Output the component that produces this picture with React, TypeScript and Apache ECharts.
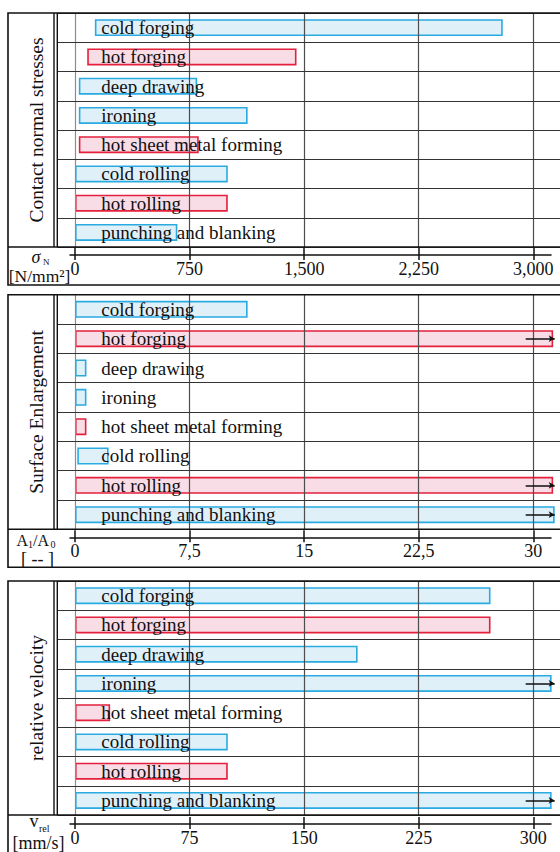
import React, { useEffect, useRef } from 'react';
import * as echarts from 'echarts';

// ---------- data ----------
const categories = [
  'cold forging',
  'hot forging',
  'deep drawing',
  'ironing',
  'hot sheet metal forming',
  'cold rolling',
  'hot rolling',
  'punching and blanking',
];
const processKind = ['cold', 'hot', 'cold', 'cold', 'hot', 'cold', 'hot', 'cold'];

// Contact normal stresses [N/mm²]
const stressStart = [130, 80, 25, 25, 25, 0, 0, 0];
const stressEnd = [2800, 1450, 800, 1130, 810, 1000, 1000, 670];
const stressTicks = [0, 750, 1500, 2250, 3000];
const stressTickLabels = ['0', '750', '1,500', '2,250', '3,000'];
const stressArrows: string[] = [];
const stressArrowSpan = [0, 0];

// Surface enlargement A1/A0 [--]
const enlargeStart = [0, 0, 0, 0, 0, 0.15, 0, 0];
const enlargeEnd = [11.3, 31.3, 0.75, 0.75, 0.75, 2.2, 31.3, 31.4];
const enlargeTicks = [0, 7.5, 15, 22.5, 30];
const enlargeTickLabels = ['0', '7,5', '15', '22,5', '30'];
const enlargeArrows = ['hot forging', 'hot rolling', 'punching and blanking'];
const enlargeArrowSpan = [29.5, 31.4];

// relative velocity v_rel [mm/s]
const velocityStart = [0, 0, 0, 0, 0, 0, 0, 0];
const velocityEnd = [272, 272, 185, 312, 23, 100, 100, 312];
const velocityTicks = [0, 75, 150, 225, 300];
const velocityTickLabels = ['0', '75', '150', '225', '300'];
const velocityArrows = ['ironing', 'punching and blanking'];
const velocityArrowSpan = [295, 314];

const panelTitles = ['Contact normal stresses', 'Surface Enlargement', 'relative velocity'];

// ---------- styling / layout ----------
const FONT = '"Liberation Serif", "Times New Roman", serif';
const INK = '#111111';
const BLUE = '#29abe2';
const BLUE_FILL = '#dff0f9';
const RED = '#e4203c';
const RED_FILL = '#f8dce6';

const layout = [
  { top: 13, plotBottom: 247, axisY: 255, bottom: 285 },
  { top: 294.7, plotBottom: 529.3, axisY: 537.3, bottom: 567.3 },
  { top: 581, plotBottom: 815, axisY: 824, bottom: 854 },
];
const ZERO_X = 75;
const LAST_TICK_X = 533.3;
const PLOT_LEFT = 57.3;
const PLOT_RIGHT = 560;
const AXIS_LEFT = 70;
const AXIS_RIGHT = 551;

function buildOption() {
  const panels = [
    { start: stressStart, end: stressEnd, ticks: stressTicks, labels: stressTickLabels, arrows: stressArrows, span: stressArrowSpan },
    { start: enlargeStart, end: enlargeEnd, ticks: enlargeTicks, labels: enlargeTickLabels, arrows: enlargeArrows, span: enlargeArrowSpan },
    { start: velocityStart, end: velocityEnd, ticks: velocityTicks, labels: velocityTickLabels, arrows: velocityArrows, span: velocityArrowSpan },
  ];

  const grid: any[] = [];
  const xAxis: any[] = [];
  const yAxis: any[] = [];
  const series: any[] = [];
  const graphic: any[] = [];

  panels.forEach((p, i) => {
    const L = layout[i];
    const lastTick = p.ticks[p.ticks.length - 1];
    const k = (LAST_TICK_X - ZERO_X) / lastTick; // px per unit

    grid.push({
      left: PLOT_LEFT,
      top: L.top,
      width: PLOT_RIGHT - PLOT_LEFT,
      height: L.plotBottom - L.top,
      containLabel: false,
    });
    grid.push({
      left: AXIS_LEFT,
      top: L.axisY - 10,
      width: AXIS_RIGHT - AXIS_LEFT,
      height: 10,
      containLabel: false,
    });

    const plotGridIdx = 2 * i;
    const axisGridIdx = 2 * i + 1;

    xAxis.push({
      type: 'value',
      gridIndex: plotGridIdx,
      min: (PLOT_LEFT - ZERO_X) / k,
      max: (PLOT_RIGHT - ZERO_X) / k,
      show: false,
      splitLine: { show: false },
    });
    const fmt = (v: number) => {
      const idx = p.ticks.findIndex((t) => Math.abs(t - v) < 1e-9);
      return idx >= 0 ? p.labels[idx] : '';
    };
    xAxis.push({
      type: 'value',
      gridIndex: axisGridIdx,
      position: 'bottom',
      min: (AXIS_LEFT - ZERO_X) / k,
      max: (AXIS_RIGHT - ZERO_X) / k,
      axisLine: { show: true, onZero: false, lineStyle: { color: INK, width: 1.5 } },
      axisTick: { show: true, inside: false, length: 5, customValues: p.ticks, lineStyle: { color: INK, width: 1.5 } },
      axisLabel: {
        show: true,
        customValues: p.ticks,
        formatter: fmt,
        margin: 5,
        fontSize: 18,
        fontFamily: FONT,
        color: INK,
      },
      splitLine: { show: false },
    });
    xAxis.push({
      type: 'value',
      gridIndex: axisGridIdx,
      position: 'bottom',
      min: (AXIS_LEFT - ZERO_X) / k,
      max: (AXIS_RIGHT - ZERO_X) / k,
      axisLine: { show: false, onZero: false },
      axisTick: { show: true, inside: true, length: 7, customValues: p.ticks, lineStyle: { color: INK, width: 1.5 } },
      axisLabel: { show: false },
      splitLine: { show: false },
    });

    yAxis.push({
      type: 'category',
      gridIndex: plotGridIdx,
      data: categories,
      inverse: true,
      z: 6,
      axisLine: { show: false, onZero: false },
      axisTick: { show: false },
      axisLabel: {
        inside: true,
        margin: 44,
        interval: 0,
        fontSize: 19,
        fontFamily: FONT,
        color: INK,
      },
      splitLine: { show: true, interval: 0, lineStyle: { color: '#333333', width: 1.2 } },
    });
    yAxis.push({
      type: 'value',
      gridIndex: axisGridIdx,
      min: 0,
      max: 1,
      show: false,
    });

    const stackName = 'panel' + i;
    const markData: any[] = p.ticks.map((v) => ({
      xAxis: v,
      lineStyle: { color: v === 0 ? '#8c8c8c' : '#4d4d4d', width: 1.2, type: 'solid' },
    }));
    p.arrows.forEach((c) => {
      markData.push([
        { coord: [p.span[0], c], symbol: 'none', lineStyle: { color: INK, width: 1.5, type: 'solid' } },
        { coord: [p.span[1], c], symbol: 'arrow', symbolSize: [5, 6], lineStyle: { color: INK, width: 1.5, type: 'solid' } },
      ]);
    });

    series.push({
      type: 'bar',
      name: 'base' + i,
      xAxisIndex: 3 * i,
      yAxisIndex: 2 * i,
      stack: stackName,
      barWidth: 17,
      silent: true,
      itemStyle: { color: 'transparent', borderWidth: 0 },
      data: p.start,
      markLine: {
        silent: true,
        symbol: ['none', 'none'],
        label: { show: false },
        lineStyle: { color: '#4d4d4d', width: 1.2, type: 'solid' },
        data: markData,
      },
    });
    series.push({
      type: 'bar',
      name: 'value' + i,
      xAxisIndex: 3 * i,
      yAxisIndex: 2 * i,
      stack: stackName,
      barWidth: 17,
      data: p.end.map((e, j) => ({
        value: e - p.start[j],
        itemStyle: {
          color: processKind[j] === 'hot' ? RED_FILL : BLUE_FILL,
          borderColor: processKind[j] === 'hot' ? RED : BLUE,
          borderWidth: 1.6,
        },
      })),
    });

    // frame
    graphic.push({
      type: 'rect',
      z: 100,
      shape: { x: 8, y: L.top, width: 620, height: L.bottom - L.top },
      style: { fill: 'none', stroke: INK, lineWidth: 1.6 },
    });
    graphic.push({
      type: 'line',
      z: 100,
      shape: { x1: 8, y1: L.plotBottom, x2: 620, y2: L.plotBottom },
      style: { stroke: INK, lineWidth: 1.5 },
    });
    graphic.push({
      type: 'line',
      z: 100,
      shape: { x1: 54, y1: L.top, x2: 54, y2: L.plotBottom },
      style: { stroke: INK, lineWidth: 1.4 },
    });
    graphic.push({
      type: 'line',
      z: 100,
      shape: { x1: PLOT_LEFT, y1: L.top, x2: PLOT_LEFT, y2: L.plotBottom },
      style: { stroke: INK, lineWidth: 1.4 },
    });
    graphic.push(txt(panelTitles[i], 36, (L.top + L.plotBottom) / 2, 19.5, 'center', Math.PI / 2));
  });

  // axis unit labels
  const a1 = layout[0].axisY;
  graphic.push(txt('σ', 36, a1 + 2, 18, 'center', 0, 'italic'));
  graphic.push(txt('N', 43, a1 + 6.5, 9, 'left'));
  graphic.push(txt('[N/mm²]', 39.5, a1 + 21, 17.5, 'center'));

  const a2 = layout[1].axisY;
  graphic.push(txt('A', 16.5, a2 + 3, 16, 'left'));
  graphic.push(txt('1', 28, a2 + 7, 10, 'left'));
  graphic.push(txt('/A', 33, a2 + 3, 16, 'left'));
  graphic.push(txt('0', 50.5, a2 + 7, 10, 'left'));
  graphic.push(txt('[ -- ]', 37.5, a2 + 21.5, 18, 'center'));

  const a3 = layout[2].axisY;
  graphic.push(txt('v', 34, a3 - 3, 18, 'center'));
  graphic.push(txt('rel', 39, a3 + 4, 10, 'left'));
  graphic.push(txt('[mm/s]', 38.5, a3 + 18.5, 18, 'center'));

  return {
    animation: false,
    backgroundColor: '#ffffff',
    grid,
    xAxis,
    yAxis,
    series,
    graphic,
  };
}

function txt(text: string, x: number, y: number, size: number, align: string, rotation = 0, fontStyle = 'normal') {
  return {
    type: 'text',
    z: 100,
    x,
    y,
    rotation,
    silent: true,
    style: {
      text,
      fill: INK,
      fontSize: size,
      fontFamily: FONT,
      fontStyle,
      align,
      textAlign: align,
      verticalAlign: 'middle',
      textVerticalAlign: 'middle',
    },
  };
}

export default function App() {
  const ref = useRef<HTMLDivElement>(null);
  useEffect(() => {
    if (!ref.current) return;
    const chart = echarts.init(ref.current, null, { renderer: 'svg' });
    chart.setOption(buildOption() as any);
    return () => chart.dispose();
  }, []);
  return (
    <div
      ref={ref}
      style={{ position: 'absolute', left: 0, top: 0, width: 560, height: 852, background: '#fff' }}
    />
  );
}
